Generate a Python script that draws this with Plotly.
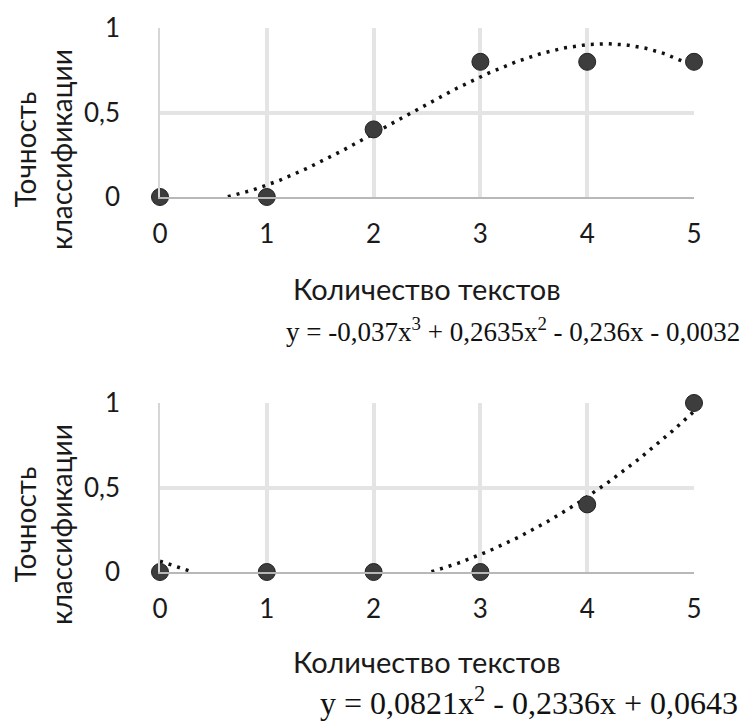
import numpy as np
import plotly.graph_objects as go

# Data
x_vals = [0, 1, 2, 3, 4, 5]
acc_top = [0, 0, 0.4, 0.8, 0.8, 0.8]
acc_bottom = [0, 0, 0, 0, 0.4, 1.0]
x_ticks = [0, 1, 2, 3, 4, 5]
y_ticks = [0, 0.5, 1]
y_ticktext = ["0", "0,5", "1"]
x_title = "Количество текстов"
y_title = "Точность<br>классификации"
eq_top = "y = -0,037x<sup>3</sup> + 0,2635x<sup>2</sup> - 0,236x - 0,0032"
eq_bottom = "y = 0,0821x<sup>2</sup> - 0,2336x + 0,0643"

def trend(xs, ys, deg):
    c = np.polyfit(xs, ys, deg)
    xx = np.linspace(min(xs), max(xs), 300)
    yy = np.polyval(c, xx)
    yy = [float(v) if v >= 0 else None for v in yy]
    return xx, yy

fig = go.Figure()
sans = "Lato"
serif = "Liberation Serif"

for i, (ys, deg) in enumerate([(acc_top, 3), (acc_bottom, 2)]):
    xa = "x" if i == 0 else "x2"
    ya = "y" if i == 0 else "y2"
    tx, ty = trend(x_vals, ys, deg)
    fig.add_trace(go.Scatter(x=tx, y=ty, mode="lines", xaxis=xa, yaxis=ya,
                             line=dict(color="#111111", width=3.5, dash="3px,6px"),
                             hoverinfo="skip", showlegend=False))
    fig.add_trace(go.Scatter(x=x_vals, y=ys, mode="markers", xaxis=xa, yaxis=ya,
                             marker=dict(size=17, color="#3d3d3d",
                                         line=dict(color="#222222", width=1)),
                             cliponaxis=False, showlegend=False))

xdom = [160 / 744, 694 / 744]
top_dom = [1 - 197 / 722, 1 - 28 / 722]
bot_dom = [1 - 572 / 722, 1 - 403 / 722]

def xaxis_cfg(anchor):
    return dict(domain=xdom, anchor=anchor, range=[0, 5], tickvals=x_ticks,
                automargin=False,
                showgrid=False, zeroline=False, showline=True, linecolor="#b8b8b8",
                linewidth=1.5, ticks="", ticklabelstandoff=13,
                tickfont=dict(family=sans, size=26, color="#1a1a1a"),
                minor=dict(tickvals=x_ticks[1:], showgrid=True, gridcolor="#e4e4e4",
                           gridwidth=4, ticks=""))

def yaxis_cfg(anchor, dom):
    return dict(domain=dom, anchor=anchor, range=[0, 1], tickvals=y_ticks,
                automargin=False,
                ticktext=y_ticktext, showgrid=False, zeroline=False, showline=True,
                linecolor="#d6d6d6", linewidth=1.5, ticks="", ticklabelstandoff=33,
                tickfont=dict(family=sans, size=26, color="#1a1a1a"),
                minor=dict(tickvals=y_ticks[1:], showgrid=True, gridcolor="#e4e4e4",
                           gridwidth=4, ticks=""))

fig.update_layout(
    template="none",
    width=744, height=722,
    margin=dict(l=0, r=0, t=0, b=0, pad=0, autoexpand=False),
    paper_bgcolor="white", plot_bgcolor="white",
    xaxis=xaxis_cfg("y"), yaxis=yaxis_cfg("x", top_dom),
    xaxis2=xaxis_cfg("y2"), yaxis2=yaxis_cfg("x2", bot_dom),
)

ann = []
for yc_title, y_xt, y_eq, eq, x_eq, eq_size in [(150, 288, 330, eq_top, 742, 27),
                                                 (525, 661, 701, eq_bottom, 740, 32)]:
    ann.append(dict(x=43 / 744, y=1 - yc_title / 722, xref="paper", yref="paper",
                    text=y_title, textangle=-90, showarrow=False,
                    font=dict(family=sans, size=28, color="#1a1a1a"),
                    xanchor="center", yanchor="middle"))
    ann.append(dict(x=427 / 744, y=1 - y_xt / 722, xref="paper", yref="paper",
                    text=x_title, showarrow=False,
                    font=dict(family=sans, size=29, color="#1a1a1a"),
                    xanchor="center", yanchor="middle"))
    ann.append(dict(x=x_eq / 744, y=1 - y_eq / 722, xref="paper", yref="paper",
                    text=eq, showarrow=False,
                    font=dict(family=serif, size=eq_size, color="#111111"),
                    xanchor="right", yanchor="middle"))
fig.update_layout(annotations=ann)

fig.write_html("out.html",
               config={"displayModeBar": False},
               post_script="document.body.style.margin='0px';"
                           "document.body.style.overflow='hidden';")
